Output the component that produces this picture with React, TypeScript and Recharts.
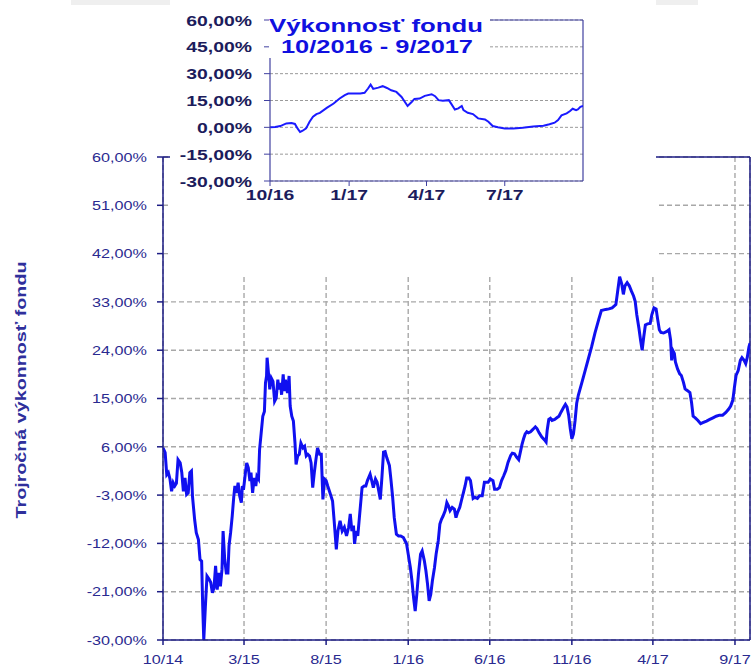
import { CartesianGrid, Line, LineChart, ReferenceLine, XAxis, YAxis } from 'recharts';

type Point = [string, number];

// three-year performance (one array per fund year)
const MAIN_YEAR_1: Point[] = [
  ['2014-10-01', 5.8], ['2014-10-05', 4.9], ['2014-10-08', 0.8], ['2014-10-11', 1.2], ['2014-10-14', 0],
  ['2014-10-17', -2.3], ['2014-10-20', -0.7], ['2014-10-23', -1.3], ['2014-10-26', -0.8], ['2014-10-29', 3.6],
  ['2014-11-02', 3.0], ['2014-11-05', 1.2], ['2014-11-08', -2.3], ['2014-11-11', 0.2], ['2014-11-14', -2.9],
  ['2014-11-17', -2.6], ['2014-11-20', 1.2], ['2014-11-23', 1.5], ['2014-11-25', -3.3], ['2014-11-29', -7.6],
  ['2014-12-02', -10], ['2014-12-06', -11.3], ['2014-12-09', -15], ['2014-12-12', -15.3], ['2014-12-14', -23.7],
  ['2014-12-16', -30], ['2014-12-19', -23.7], ['2014-12-22', -18.1], ['2014-12-26', -18.7], ['2014-12-29', -19.3],
  ['2015-01-01', -21.2], ['2015-01-04', -20.3], ['2015-01-07', -16.2], ['2015-01-10', -20.6], ['2015-01-13', -17.5],
  ['2015-01-16', -20], ['2015-01-19', -16.8], ['2015-01-21', -9.7], ['2015-01-24', -15], ['2015-01-27', -17.5],
  ['2015-01-30', -17.5], ['2015-02-01', -12.5], ['2015-02-04', -10], ['2015-02-07', -6.9], ['2015-02-10', -3.2],
  ['2015-02-12', -1.3], ['2015-02-15', -2.6], ['2015-02-18', -0.7], ['2015-02-21', -3.2], ['2015-02-24', -4.4],
  ['2015-02-26', -1.3], ['2015-02-28', -2], ['2015-03-04', 1.5], ['2015-03-06', 3], ['2015-03-09', 2.1],
  ['2015-03-12', -0.4], ['2015-03-14', 1.2], ['2015-03-17', -2.6], ['2015-03-20', 0.2], ['2015-03-23', -1.3],
  ['2015-03-25', 0.5], ['2015-03-28', 0], ['2015-03-30', 5.5], ['2015-04-02', 8.6], ['2015-04-05', 11.7],
  ['2015-04-08', 12.6], ['2015-04-10', 17.9], ['2015-04-12', 19.2], ['2015-04-13', 22.6], ['2015-04-16', 19.2],
  ['2015-04-18', 16.7], ['2015-04-21', 18.8], ['2015-04-24', 18.2], ['2015-04-27', 14.5], ['2015-04-30', 15.1],
  ['2015-05-03', 18.5], ['2015-05-05', 16.7], ['2015-05-08', 17.9], ['2015-05-10', 15.7], ['2015-05-13', 19.5],
  ['2015-05-15', 16.4], ['2015-05-17', 18.5], ['2015-05-21', 16], ['2015-05-24', 19.2], ['2015-05-26', 13.6],
  ['2015-05-29', 11.7], ['2015-06-01', 10.8], ['2015-06-04', 6.7], ['2015-06-06', 2.7], ['2015-06-09', 4.3],
  ['2015-06-12', 4.6], ['2015-06-15', 6.7], ['2015-06-19', 5.8], ['2015-06-22', 6.1], ['2015-06-25', 4.3],
  ['2015-06-28', 4.6], ['2015-07-01', 4.3], ['2015-07-04', 3], ['2015-07-07', -1.6], ['2015-07-10', 1.2],
  ['2015-07-13', 3.6], ['2015-07-16', 5.8], ['2015-07-20', 4.6], ['2015-07-23', 4.6], ['2015-07-26', -3.8],
  ['2015-07-29', 0], ['2015-08-01', -0.3], ['2015-08-04', -1.3], ['2015-08-08', -2.5], ['2015-08-13', -4.1],
  ['2015-08-16', -7.8], ['2015-08-20', -13.1], ['2015-08-23', -9.7], ['2015-08-27', -7.8], ['2015-08-31', -9.7],
  ['2015-09-04', -9], ['2015-09-08', -10.6], ['2015-09-12', -9], ['2015-09-15', -6.5], ['2015-09-18', -9.7],
  ['2015-09-21', -8.7], ['2015-09-23', -12.1], ['2015-09-26', -9.7], ['2015-09-29', -10.6],
];

const MAIN_YEAR_2: Point[] = [
  ['2015-10-02', -7.2], ['2015-10-07', -1.6], ['2015-10-11', -1.3], ['2015-10-14', -1.3], ['2015-10-17', -0.3],
  ['2015-10-22', 0.9], ['2015-10-25', -0.3], ['2015-10-28', -1.6], ['2015-11-01', 0], ['2015-11-04', -0.6],
  ['2015-11-07', -2.2], ['2015-11-10', -3.8], ['2015-11-13', 0.3], ['2015-11-16', 5], ['2015-11-19', 5.1],
  ['2015-11-22', 4], ['2015-11-27', 2.5], ['2015-11-30', -0.3], ['2015-12-03', -3.4], ['2015-12-06', -7.2],
  ['2015-12-10', -10.3], ['2015-12-14', -10.6], ['2015-12-18', -10.6], ['2015-12-23', -10.9], ['2015-12-26', -11.5],
  ['2015-12-29', -12.1], ['2016-01-01', -14], ['2016-01-05', -16.5], ['2016-01-08', -19], ['2016-01-11', -22.1],
  ['2016-01-14', -24.6], ['2016-01-17', -21.5], ['2016-01-20', -17.8], ['2016-01-24', -14], ['2016-01-27', -13.4],
  ['2016-01-31', -15.2], ['2016-02-03', -17.1], ['2016-02-06', -19.6], ['2016-02-09', -22.7], ['2016-02-12', -21.5],
  ['2016-02-15', -19], ['2016-02-19', -16.5], ['2016-02-22', -14], ['2016-02-26', -11.5], ['2016-02-29', -8.4],
  ['2016-03-03', -7.5], ['2016-03-06', -6.9], ['2016-03-10', -5.9], ['2016-03-13', -4.4], ['2016-03-16', -5],
  ['2016-03-19', -5.9], ['2016-03-23', -5.3], ['2016-03-27', -5.6], ['2016-03-30', -7.2], ['2016-04-02', -6.2],
  ['2016-04-06', -5.3], ['2016-04-09', -4.1], ['2016-04-13', -2.5], ['2016-04-16', -1.3], ['2016-04-19', 0.2],
  ['2016-04-23', 0.2], ['2016-04-26', -0.3], ['2016-05-01', -3.6], ['2016-05-04', -3.4], ['2016-05-09', -3.6],
  ['2016-05-13', -3.1], ['2016-05-18', -3.1], ['2016-05-22', -0.6], ['2016-05-25', -0.6], ['2016-05-29', -0.6],
  ['2016-06-02', 0], ['2016-06-07', -0.3], ['2016-06-10', -1.9], ['2016-06-15', -1.9], ['2016-06-19', -1.6],
  ['2016-06-23', -0.3], ['2016-06-27', 0.6], ['2016-07-01', 1.6], ['2016-07-05', 3.1], ['2016-07-10', 4.4],
  ['2016-07-13', 4.8], ['2016-07-17', 4.7], ['2016-07-21', 4.1], ['2016-07-25', 3.6], ['2016-07-28', 5],
  ['2016-07-31', 6.4], ['2016-08-03', 7.5], ['2016-08-06', 8.4], ['2016-08-09', 8.8], ['2016-08-12', 8.6],
  ['2016-08-16', 8.8], ['2016-08-19', 9.1], ['2016-08-22', 9.4], ['2016-08-25', 9.7], ['2016-08-28', 9.4],
  ['2016-09-01', 8.6], ['2016-09-06', 7.8], ['2016-09-11', 7.3], ['2016-09-14', 6.9], ['2016-09-16', 9.1],
  ['2016-09-19', 11.1], ['2016-09-22', 11.3], ['2016-09-25', 10.9], ['2016-09-30', 11.1],
];

const MAIN_YEAR_3: Point[] = [
  ['2016-10-04', 11.4], ['2016-10-08', 11.7], ['2016-10-12', 12.5], ['2016-10-17', 13.4], ['2016-10-20', 13.9],
  ['2016-10-23', 13.4], ['2016-10-26', 11.9], ['2016-10-29', 9.4], ['2016-11-01', 7.5], ['2016-11-04', 8.4],
  ['2016-11-07', 10.9], ['2016-11-10', 14.1], ['2016-11-13', 15.6], ['2016-11-20', 18.1], ['2016-11-26', 20.3],
  ['2016-12-02', 22.5], ['2016-12-08', 24.7], ['2016-12-14', 27.2], ['2016-12-21', 29.7], ['2016-12-26', 31.4],
  ['2017-01-03', 31.6], ['2017-01-09', 31.7], ['2017-01-15', 31.9], ['2017-01-22', 32.5], ['2017-01-25', 34.7],
  ['2017-01-29', 37.7], ['2017-02-02', 36.3], ['2017-02-05', 34.4], ['2017-02-08', 36], ['2017-02-12', 36.6],
  ['2017-02-16', 36], ['2017-02-20', 35], ['2017-02-24', 34.1], ['2017-02-27', 33.1], ['2017-03-02', 30.6],
  ['2017-03-06', 28.1], ['2017-03-09', 25.9], ['2017-03-12', 24], ['2017-03-15', 26.5], ['2017-03-18', 28.7],
  ['2017-03-22', 28.9], ['2017-03-27', 29], ['2017-03-30', 30.6], ['2017-04-03', 31.9], ['2017-04-07', 31.7],
  ['2017-04-10', 29.7], ['2017-04-13', 27.8], ['2017-04-16', 27.3], ['2017-04-21', 27.2], ['2017-04-27', 27.5],
  ['2017-05-01', 27.8], ['2017-05-04', 25.9], ['2017-05-06', 22.1], ['2017-05-08', 24], ['2017-05-11', 23.4],
  ['2017-05-13', 21.8], ['2017-05-17', 20.5], ['2017-05-21', 19.6], ['2017-05-24', 19.3], ['2017-05-28', 18],
  ['2017-05-31', 16.8], ['2017-06-04', 16.5], ['2017-06-09', 16.1], ['2017-06-12', 14.3], ['2017-06-15', 11.7],
  ['2017-06-19', 11.4], ['2017-06-24', 10.9], ['2017-06-29', 10.3], ['2017-07-03', 10.5], ['2017-07-10', 10.8],
  ['2017-07-16', 11.1], ['2017-07-22', 11.4], ['2017-07-28', 11.7], ['2017-08-03', 11.9], ['2017-08-09', 11.9],
  ['2017-08-15', 12.4], ['2017-08-20', 13], ['2017-08-24', 13.6], ['2017-08-28', 14.7], ['2017-08-31', 17.1],
  ['2017-09-03', 19.3], ['2017-09-07', 20.2], ['2017-09-11', 22.1], ['2017-09-14', 22.6], ['2017-09-18', 22.1],
  ['2017-09-21', 21.5], ['2017-09-24', 22.7], ['2017-09-27', 24.6], ['2017-09-29', 25.3],
];

const MAIN_X_TICKS = ['2014-10-01', '2015-03-01', '2015-08-01', '2016-01-01', '2016-06-01', '2016-11-01', '2017-04-01', '2017-09-01'];
const MAIN_X_LABELS = ['10/14', '3/15', '8/15', '1/16', '6/16', '11/16', '4/17', '9/17'];
const MAIN_Y_TICKS = [-30, -21, -12, -3, 6, 15, 24, 33, 42, 51, 60];
const MAIN_START = '2014-10-01';
const MAIN_END = '2017-09-29';

// one-year inset
const INSET_POINTS: Point[] = [
  ['2016-10-01', 0], ['2016-10-07', 0.2], ['2016-10-13', 0.7], ['2016-10-20', 2.2], ['2016-10-26', 2.4],
  ['2016-10-30', 1.9], ['2016-11-02', -0.6], ['2016-11-05', -2.6], ['2016-11-08', -1.9], ['2016-11-12', -0.6],
  ['2016-11-16', 3.1], ['2016-11-20', 5.9], ['2016-11-24', 7.4], ['2016-11-28', 8.1], ['2016-12-06', 10.9],
  ['2016-12-14', 13.3], ['2016-12-21', 16.1], ['2016-12-27', 18], ['2016-12-31', 18.9], ['2017-01-06', 18.9],
  ['2017-01-14', 18.9], ['2017-01-19', 19.3], ['2017-01-23', 21.7], ['2017-01-26', 23.9], ['2017-01-29', 21.5],
  ['2017-02-04', 22.2], ['2017-02-09', 23], ['2017-02-14', 22], ['2017-02-19', 20.7], ['2017-02-25', 19.8],
  ['2017-03-03', 17], ['2017-03-10', 11.9], ['2017-03-15', 14.3], ['2017-03-18', 15.9], ['2017-03-24', 16.1],
  ['2017-03-30', 17.6], ['2017-04-07', 18.5], ['2017-04-11', 17.4], ['2017-04-15', 15.2], ['2017-04-20', 14.8],
  ['2017-04-27', 15.2], ['2017-04-30', 13], ['2017-05-04', 10], ['2017-05-08', 10.6], ['2017-05-12', 11.9],
  ['2017-05-14', 9.6], ['2017-05-19', 8.1], ['2017-05-25', 7.4], ['2017-05-31', 5], ['2017-06-08', 4.4],
  ['2017-06-12', 3.1], ['2017-06-17', 0.7], ['2017-06-23', 0], ['2017-07-01', -0.7], ['2017-07-11', -0.6],
  ['2017-07-22', -0.2], ['2017-08-03', 0.4], ['2017-08-15', 0.9], ['2017-08-22', 1.7], ['2017-08-28', 2.6],
  ['2017-09-01', 4.1], ['2017-09-05', 6.7], ['2017-09-11', 7.8], ['2017-09-15', 9.1], ['2017-09-18', 10.4],
  ['2017-09-22', 9.6], ['2017-09-24', 10], ['2017-09-27', 11.5], ['2017-09-30', 12],
];

const INSET_X_TICKS = ['2016-10-01', '2017-01-01', '2017-04-01', '2017-07-01'];
const INSET_X_LABELS = ['10/16', '1/17', '4/17', '7/17'];
const INSET_Y_TICKS = [-30, -15, 0, 15, 30, 45, 60];
const INSET_START = '2016-10-01';
const INSET_END = '2017-09-30';

const TITLE_LINES = ['Výkonnosť fondu', '10/2016 - 9/2017'];
const Y_TITLE = 'Trojročná výkonnosť fondu';

const FONT = "Arial, 'Liberation Sans', sans-serif";
const NAVY = '#1c1c84';
const INSET_NAVY = '#4040a0';
const LABEL_BLUE = '#2a2a90';
const INSET_LABEL = '#1c1c5c';

const ts = (d: string) => Date.parse(d);
const pct = (v: number) => `${v.toFixed(2).replace('.', ',')}%`;
const toRows = (pts: Point[]) => pts.map(([d, v]) => ({ t: ts(d), v }));
const dateLabel = (dates: string[], labels: string[]) => (v: number) => {
  const i = dates.findIndex((d) => ts(d) === v);
  return i >= 0 ? labels[i] : '';
};

// the source picture is stretched sideways, so tick text gets a horizontal scale
function StretchedTick(props: any) {
  const { x, y, payload, textAnchor, format, size, weight, color, stretch, dy } = props;
  return (
    <g transform={`translate(${x},${y})`}>
      <text
        transform={`scale(${stretch},1)`}
        textAnchor={textAnchor}
        dy={dy}
        fontSize={size}
        fontWeight={weight}
        fill={color}
        fontFamily={FONT}
      >
        {format(payload.value)}
      </text>
    </g>
  );
}

const TABS = [
  [71, 126],
  [203, 105],
  [315, 114],
  [435, 114],
  [556, 142],
];

export default function App() {
  const mainRows = toRows([...MAIN_YEAR_1, ...MAIN_YEAR_2, ...MAIN_YEAR_3]);
  const insetRows = toRows(INSET_POINTS);
  const mainXFormat = dateLabel(MAIN_X_TICKS, MAIN_X_LABELS);
  const insetXFormat = dateLabel(INSET_X_TICKS, INSET_X_LABELS);

  return (
    <div
      style={{
        position: 'absolute',
        left: 0,
        top: 0,
        width: 754,
        height: 671,
        background: '#fff',
        overflow: 'hidden',
        fontFamily: FONT,
      }}
    >
      {TABS.map(([left, width]) => (
        <div
          key={left}
          style={{ position: 'absolute', left, top: 0, width, height: 5, background: '#efefef' }}
        />
      ))}

      <div style={{ position: 'absolute', left: 0, top: 0 }}>
        <LineChart width={754} height={671} data={mainRows} margin={{ top: 157, right: 4, bottom: 6, left: 0 }}>
          <CartesianGrid stroke="#a8a8a8" strokeWidth={1.4} strokeDasharray="5 3" />
          <XAxis
            dataKey="t"
            type="number"
            domain={[ts(MAIN_START), ts(MAIN_END)]}
            ticks={MAIN_X_TICKS.map(ts)}
            interval={0}
            allowDataOverflow
            height={25}
            tickSize={5}
            tickMargin={9}
            axisLine={{ stroke: NAVY, strokeWidth: 1.5 }}
            tickLine={{ stroke: NAVY, strokeWidth: 1.5 }}
            tick={(p: any) => (
              <StretchedTick {...p} format={mainXFormat} size={13.5} weight="normal" color={LABEL_BLUE} stretch={1.2} dy="0.71em" />
            )}
          />
          <YAxis
            type="number"
            domain={[-30, 60]}
            ticks={MAIN_Y_TICKS}
            interval={0}
            allowDataOverflow
            width={163}
            tickSize={6}
            tickMargin={10}
            axisLine={{ stroke: NAVY, strokeWidth: 1.5 }}
            tickLine={{ stroke: NAVY, strokeWidth: 1.5 }}
            tick={(p: any) => (
              <StretchedTick {...p} format={pct} size={13.5} weight="normal" color={LABEL_BLUE} stretch={1.2} dy="0.355em" />
            )}
          />
          <ReferenceLine y={60} stroke={NAVY} strokeWidth={1.5} />
          <ReferenceLine x={ts(MAIN_END)} stroke={NAVY} strokeWidth={1.5} />
          <Line type="linear" dataKey="v" stroke="#1010f0" strokeWidth={3} dot={false} isAnimationActive={false} />
        </LineChart>
      </div>

      {/* white panel behind the inset */}
      <div style={{ position: 'absolute', left: 170, top: 0, width: 486, height: 275, background: '#fff' }} />

      <div style={{ position: 'absolute', left: 170, top: 0 }}>
        <LineChart width={486} height={275} data={insetRows} margin={{ top: 20, right: 73, bottom: 69, left: 0 }}>
          <CartesianGrid stroke="#9a9a9a" strokeWidth={1} strokeDasharray="3 2" vertical={false} />
          <XAxis
            dataKey="t"
            type="number"
            domain={[ts(INSET_START), ts(INSET_END)]}
            ticks={INSET_X_TICKS.map(ts)}
            interval={0}
            allowDataOverflow
            height={25}
            tickSize={5}
            tickMargin={3}
            axisLine={{ stroke: INSET_NAVY, strokeWidth: 1.2 }}
            tickLine={{ stroke: INSET_NAVY }}
            tick={(p: any) => (
              <StretchedTick {...p} format={insetXFormat} size={15.5} weight="bold" color={INSET_LABEL} stretch={1.25} dy="0.71em" />
            )}
          />
          <YAxis
            type="number"
            domain={[-30, 60]}
            ticks={INSET_Y_TICKS}
            interval={0}
            allowDataOverflow
            width={100}
            tickSize={6}
            tickMargin={12}
            axisLine={{ stroke: INSET_NAVY, strokeWidth: 1.2 }}
            tickLine={{ stroke: INSET_NAVY }}
            tick={(p: any) => (
              <StretchedTick {...p} format={pct} size={15.5} weight="bold" color={INSET_LABEL} stretch={1.25} dy="0.355em" />
            )}
          />
          <ReferenceLine y={60} stroke={INSET_NAVY} strokeWidth={1.2} />
          <ReferenceLine x={ts(INSET_END)} stroke={INSET_NAVY} strokeWidth={1.2} />
          <Line type="linear" dataKey="v" stroke="#1a1aff" strokeWidth={2} dot={false} isAnimationActive={false} />
        </LineChart>
      </div>

      <svg width={754} height={671} style={{ position: 'absolute', left: 0, top: 0, pointerEvents: 'none' }}>
        <rect x={269} y={0} width={221} height={58} fill="#fff" />
        <text
          x={376}
          y={31.5}
          textAnchor="middle"
          textLength={214}
          lengthAdjust="spacingAndGlyphs"
          fontSize={18}
          fontWeight="bold"
          fill="#1010e0"
          fontFamily={FONT}
        >
          {TITLE_LINES[0]}
        </text>
        <text
          x={377}
          y={52.5}
          textAnchor="middle"
          textLength={192}
          lengthAdjust="spacingAndGlyphs"
          fontSize={18}
          fontWeight="bold"
          fill="#1010e0"
          fontFamily={FONT}
        >
          {TITLE_LINES[1]}
        </text>
        <text
          x={26}
          y={390}
          transform="rotate(-90 26 390)"
          textAnchor="middle"
          textLength={257}
          lengthAdjust="spacingAndGlyphs"
          fontSize={14.5}
          fontWeight="bold"
          fill="#2f2f9c"
          fontFamily={FONT}
        >
          {Y_TITLE}
        </text>
      </svg>
    </div>
  );
}
